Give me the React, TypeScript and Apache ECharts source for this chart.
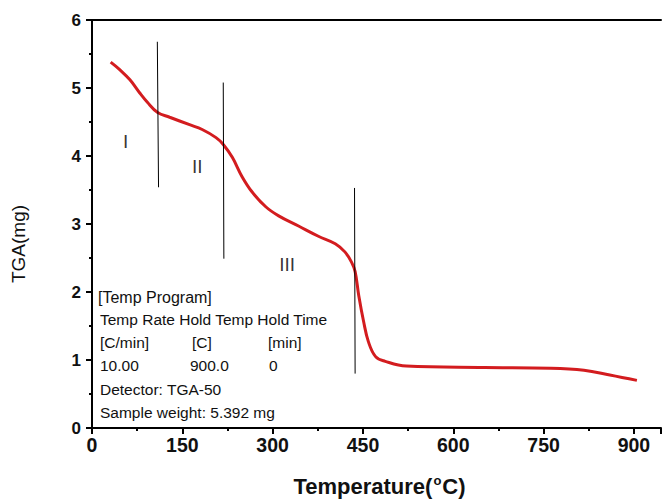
import React, { useEffect, useRef } from "react";
import * as echarts from "echarts";

const temps = [31, 46, 63, 79, 92, 109, 129, 162, 183, 206, 218, 233, 249, 266, 289, 310, 343, 376, 404, 420, 431, 437, 443, 451, 459, 471, 487, 522, 652, 761, 817, 860, 905];
const tgaValues = [5.38, 5.27, 5.12, 4.93, 4.79, 4.64, 4.57, 4.46, 4.39, 4.27, 4.17, 3.98, 3.70, 3.47, 3.25, 3.12, 2.97, 2.82, 2.71, 2.59, 2.44, 2.30, 1.95, 1.57, 1.27, 1.05, 0.98, 0.91, 0.89, 0.88, 0.85, 0.78, 0.70];

const dividerLines = [
  [[108.5, 5.68], [110.5, 3.54]],
  [[218, 5.08], [219, 2.49]],
  [[436, 3.53], [437, 0.80]],
];
const stageLabels = [
  { name: "I", value: [56, 4.21] },
  { name: "II", value: [175, 3.84] },
  { name: "III", value: [324, 2.41] },
];
const xTicks = [0, 150, 300, 450, 600, 750, 900];
const yTicks = [0, 1, 2, 3, 4, 5, 6];
const infoLines = [
  "[Temp Program]",
  "Temp Rate Hold Temp Hold Time",
];
const infoUnits = ["[C/min]", "[C]", "[min]"];
const infoValues = ["10.00", "900.0", "0"];
const infoTail = ["Detector: TGA-50", "Sample weight: 5.392 mg"];

const FONT = "'Liberation Sans', Arial, sans-serif";

export default function App() {
  const ref = useRef<HTMLDivElement>(null);
  useEffect(() => {
    if (!ref.current) return;
    const chart = echarts.init(ref.current, null, { renderer: "svg" });
    const textStyle = { fill: "#111", fontSize: 15.5, fontFamily: FONT };
    const lineYs = [298, 320, 343, 366, 390, 413];
    const graphics: any[] = [];
    graphics.push({ type: "text", left: 98, top: lineYs[0] - 9, style: { ...textStyle, fontSize: 16, text: infoLines[0] } });
    graphics.push({ type: "text", left: 100, top: lineYs[1] - 9, style: { ...textStyle, text: infoLines[1] } });
    const colX = [100, 192, 268];
    infoUnits.forEach((t, i) => graphics.push({ type: "text", left: colX[i], top: lineYs[2] - 9, style: { ...textStyle, text: t } }));
    const valX = [100, 190, 269];
    infoValues.forEach((t, i) => graphics.push({ type: "text", left: valX[i], top: lineYs[3] - 9, style: { ...textStyle, text: t } }));
    infoTail.forEach((t, i) => graphics.push({ type: "text", left: 100, top: lineYs[4 + i] - 9, style: { ...textStyle, text: t } }));

    const axisCommon = {
      type: "value",
      min: 0,
      max: 945,
      interval: 150,
    };

    chart.setOption({
      animation: false,
      backgroundColor: "#fff",
      textStyle: { fontFamily: FONT },
      grid: { left: 92, top: 20, right: 0, height: 411 },
      xAxis: [
        {
          ...axisCommon,
          position: "bottom",
          name: "Temperature({sup|o}C)",
          nameLocation: "middle",
          nameGap: 46,
          nameTextStyle: {
            fontSize: 22, fontWeight: "bold", color: "#111", fontFamily: FONT, padding: [0, 0, 0, 6],
            rich: { sup: { fontSize: 13, fontWeight: "bold", verticalAlign: "top", padding: [0, 1, 11, 1], color: "#111" } },
          },
          axisLine: { show: true, onZero: false, lineStyle: { color: "#000", width: 2 } },
          axisTick: { show: true, length: 6, lineStyle: { color: "#000", width: 2 } },
          minorTick: { show: true, splitNumber: 2, length: 3, lineStyle: { color: "#000", width: 2 } },
          splitLine: { show: false },
          axisLabel: {
            fontSize: 19.5, fontWeight: "bold", color: "#111", margin: 7, fontFamily: FONT,
            formatter: (v: number) => (xTicks.includes(v) ? String(v) : ""),
          },
        },
        {
          ...axisCommon,
          position: "top",
          axisLine: { show: true, onZero: false, lineStyle: { color: "#000", width: 2 } },
          axisTick: { show: false },
          axisLabel: { show: false },
          splitLine: { show: false },
        },
      ],
      yAxis: {
        type: "value",
        min: 0,
        max: 6,
        interval: 1,
        name: "TGA(mg)",
        nameLocation: "middle",
        nameGap: 64,
        nameTextStyle: { fontSize: 19, color: "#111", fontFamily: FONT, padding: [0, 40, 0, 0] },
        axisLine: { show: true, onZero: false, lineStyle: { color: "#000", width: 2 } },
        axisTick: { show: true, length: 6, lineStyle: { color: "#000", width: 2 } },
        minorTick: { show: true, splitNumber: 2, length: 3, lineStyle: { color: "#000", width: 2 } },
        splitLine: { show: false },
        axisLabel: {
          fontSize: 17, fontWeight: "bold", color: "#111", margin: 11, fontFamily: FONT,
          formatter: (v: number) => (yTicks.includes(v) ? String(v) : ""),
        },
      },
      series: [
        ...dividerLines.map((seg) => ({
          type: "line",
          data: seg,
          symbol: "none",
          lineStyle: { color: "#000", width: 1 },
          silent: true,
          z: 3,
        })),
        {
          type: "line",
          data: temps.map((t, i) => [t, tgaValues[i]]),
          smooth: 0.4,
          symbol: "none",
          lineStyle: { color: "#d31c1f", width: 3 },
          z: 2,
        },
        {
          type: "scatter",
          data: stageLabels,
          symbolSize: 1,
          itemStyle: { color: "rgba(0,0,0,0)" },
          label: { show: true, position: "inside", formatter: "{b}", fontSize: 19, color: "#000", fontFamily: FONT },
        },
      ],
      graphic: graphics,
    });
    return () => chart.dispose();
  }, []);
  return <div ref={ref} style={{ width: 664, height: 502, position: "absolute", left: 0, top: 0 }} />;
}
